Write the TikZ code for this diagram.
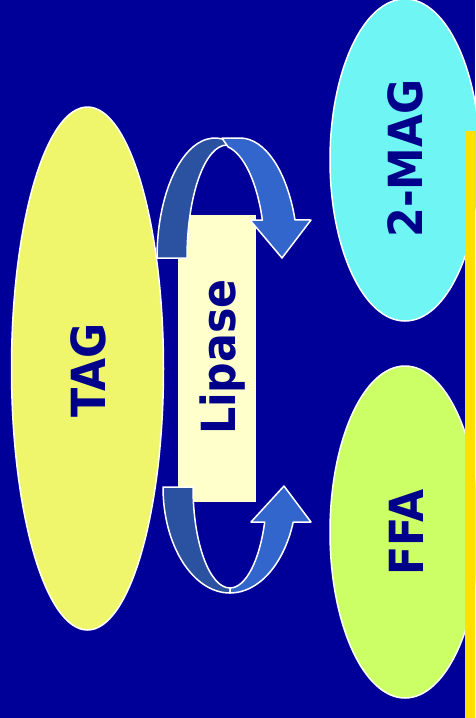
\documentclass[tikz,border=0pt]{standalone}
\usepackage{fontspec}
\usepackage{tikz}
\usetikzlibrary{shapes.geometric}
\newfontfamily\lblfont{DejaVu Sans}[FakeStretch=0.91]
\definecolor{bgblue}{RGB}{0,0,153}
\definecolor{txtblue}{RGB}{0,0,139}
\definecolor{tagyellow}{RGB}{240,246,108}
\definecolor{magcyan}{RGB}{112,245,245}
\definecolor{ffagreen}{RGB}{204,255,102}
\definecolor{lipcream}{RGB}{255,255,204}
\definecolor{baryellow}{RGB}{255,224,0}
\definecolor{backband}{RGB}{43,82,160}
\definecolor{frontband}{RGB}{51,102,204}

\begin{document}
\begin{tikzpicture}[x=1pt, y=-1pt,
    blob/.style={ellipse, draw=white, line width=1.5pt, inner sep=0pt},
    lbl/.style={font=\lblfont\bfseries\fontsize{47}{47}\selectfont, text=txtblue, rotate=90, anchor=base},
    band/.style={draw=white, line width=1.5pt, line join=round}]
        \useasboundingbox (0,0) rectangle (475,718);
        \fill[bgblue] (0,0) rectangle (475,718); % slide background

        \node[blob, fill=tagyellow, minimum width=152, minimum height=523] (tag) at (87.5,368.5) {}; % substrate
        \node[blob, fill=magcyan, minimum width=150, minimum height=322] (mag) at (405,160) {}; % product 1
        \node[blob, fill=ffagreen, minimum width=150, minimum height=332] (ffa) at (405,532) {}; % product 2
        \fill[baryellow] (465,131) rectangle (475,718); % side bar
        \node[fill=lipcream, inner sep=0pt, minimum width=78, minimum height=287] (lipase) at (217,358.5) {}; % enzyme

        % Upper curved arrow: back half, then front half with head
        \draw[band, fill=backband] (157,258) arc[start angle=180, end angle=283, x radius=58, y radius=120]
            -- (227,145) arc[start angle=270, end angle=180, x radius=40, y radius=113] -- cycle;
        \draw[band, fill=frontband] (222,138.2) -- (240,138) arc[start angle=270, end angle=341.5, x radius=58, y radius=120]
            -- (311,220) -- (282,258) -- (250,220) -- (262.4,220)
            arc[start angle=340.3, end angle=280.2, x radius=45, y radius=113] -- cycle;

        % Lower curved arrow
        \draw[band, fill=backband] (163,487) arc[start angle=180, end angle=90, x radius=67, y radius=106]
            -- (230,588) arc[start angle=90, end angle=180, x radius=37, y radius=101] -- cycle;
        \draw[band, fill=frontband] (230,593) arc[start angle=90, end angle=19.3, x radius=67, y radius=106]
            -- (311,522) -- (284,486) -- (251,522) -- (264.7,522)
            arc[start angle=20.3, end angle=90, x radius=37, y radius=101] -- cycle;

        % Labels
        \node[lbl] (taglbl) at (105,370.5) {TAG};
        \node[lbl] (lipaselbl) at (235,357) {Lipase};
        \node[lbl] (maglbl) at (422,158.5) {2-MAG};
        \node[lbl] (ffalbl) at (423,532.5) {FFA};
\end{tikzpicture}
\end{document}
